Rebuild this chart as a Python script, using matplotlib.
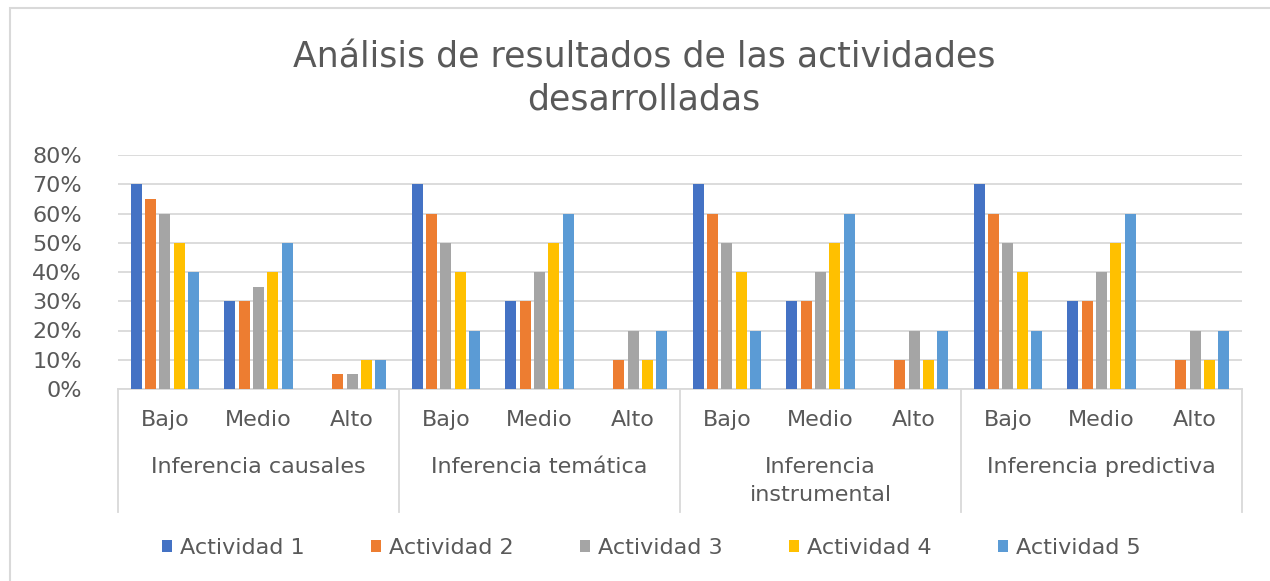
import matplotlib.pyplot as plt
import numpy as np

categories = ['Inferencia causales', 'Inferencia temática', 'Inferencia\ninstrumental', 'Inferencia predictiva']
levels = ['Bajo', 'Medio', 'Alto']
series = ['Actividad 1', 'Actividad 2', 'Actividad 3', 'Actividad 4', 'Actividad 5']
colors = ['#4472C4', '#ED7D31', '#A5A5A5', '#FFC000', '#5B9BD5']

# one list per activity, 12 values: (causales B/M/A, temática B/M/A, instrumental B/M/A, predictiva B/M/A)
actividad1 = [0.70, 0.30, 0.00, 0.70, 0.30, 0.00, 0.70, 0.30, 0.00, 0.70, 0.30, 0.00]
actividad2 = [0.65, 0.30, 0.05, 0.60, 0.30, 0.10, 0.60, 0.30, 0.10, 0.60, 0.30, 0.10]
actividad3 = [0.60, 0.35, 0.05, 0.50, 0.40, 0.20, 0.50, 0.40, 0.20, 0.50, 0.40, 0.20]
actividad4 = [0.50, 0.40, 0.10, 0.40, 0.50, 0.10, 0.40, 0.50, 0.10, 0.40, 0.50, 0.10]
actividad5 = [0.40, 0.50, 0.10, 0.20, 0.60, 0.20, 0.20, 0.60, 0.20, 0.20, 0.60, 0.20]
values = [actividad1, actividad2, actividad3, actividad4, actividad5]

text_color = '#595959'
grid_color = '#d9d9d9'
plt.rcParams['font.family'] = ['DejaVu Sans']

fig = plt.figure(figsize=(12.7, 5.81), dpi=100)
ax = fig.add_axes([118 / 1270, 1 - 389 / 581, 1124 / 1270, 234 / 581])

n_levels = len(levels)
x = np.arange(len(categories) * n_levels)
pitch = 0.153
width = 0.115
for i, (name, vals) in enumerate(zip(series, values)):
    offs = (i - 2) * pitch
    ax.bar(x + offs, vals, width=width, color=colors[i], label=name, zorder=3)

ax.set_xlim(-0.5, len(x) - 0.5)
ax.set_ylim(0, 0.8)
ax.set_yticks(np.arange(0, 0.81, 0.1))
ax.set_yticklabels([f'{int(round(v * 100))}%' for v in np.arange(0, 0.81, 0.1)])
ax.tick_params(axis='y', length=0, pad=26, labelsize=16, labelcolor=text_color)
ax.set_xticks([])
ax.grid(axis='y', color=grid_color, linewidth=1.3, zorder=0)
for s in ['top', 'right', 'left']:
    ax.spines[s].set_visible(False)
ax.spines['bottom'].set_color(grid_color)
ax.spines['bottom'].set_linewidth(1.3)

# level labels and category labels under the axis
trans = ax.get_xaxis_transform()
for k in range(len(x)):
    ax.text(x[k], -0.132, levels[k % n_levels], transform=trans, ha='center', va='center',
            fontsize=16, color=text_color)
for c, cat in enumerate(categories):
    cx = c * n_levels + 1
    for j, line in enumerate(cat.split('\n')):
        ax.text(cx, -0.333 - j * 0.12, line, transform=trans, ha='center', va='center',
                fontsize=16, color=text_color)
for c in range(len(categories) + 1):
    xs = c * n_levels - 0.5
    ax.plot([xs, xs], [0, -0.526], transform=trans, color=grid_color, linewidth=1.3, clip_on=False)

fig.suptitle('Análisis de resultados de las actividades\ndesarrolladas', x=0.507, y=0.93,
             fontsize=25, color=text_color, linespacing=1.3)

fig.legend(loc='center', bbox_to_anchor=(0.513, 1 - 548 / 581), ncol=5, frameon=False,
           fontsize=16, labelcolor=text_color, handlelength=0.45, handleheight=0.45,
           handletextpad=0.35, columnspacing=3.0)

# outer chart border
fig.add_artist(plt.Rectangle((10 / 1270, -0.1), 1.2, 1 - 8 / 581 + 0.1, transform=fig.transFigure,
                             fill=False, edgecolor=grid_color, linewidth=1.5))

fig.savefig('out.png', dpi=100)
